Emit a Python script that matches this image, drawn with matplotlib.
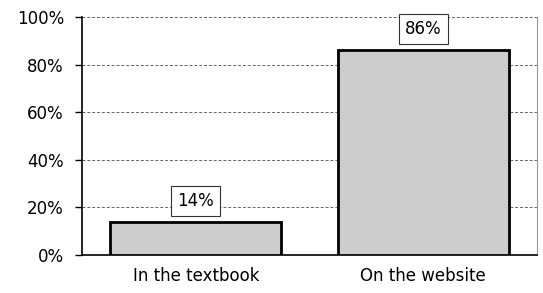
import matplotlib
matplotlib.use("Agg")
import matplotlib.pyplot as plt
from matplotlib.ticker import PercentFormatter

categories = ["In the textbook", "On the website"]
values = [14, 86]
labels = ["14%", "86%"]
yticks = [0, 20, 40, 60, 80, 100]

plt.rcParams["font.family"] = ["DejaVu Sans"]

fig = plt.figure(figsize=(5.43, 2.93), dpi=100)
ax = fig.add_axes([0.151, 0.130, 0.838, 0.812])

x = range(len(categories))
ax.bar(x, values, width=0.75, color="#cccccc", edgecolor="black", linewidth=2, zorder=3)

for xi, v, lab in zip(x, values, labels):
    ax.annotate(lab, (xi, v), xytext=(0, 15), textcoords="offset points",
                ha="center", va="center", fontsize=12, zorder=4, annotation_clip=False,
                bbox=dict(boxstyle="square,pad=0.36", fc="white", ec="#333333", lw=0.8))

ax.set_xlim(-0.5, 1.5)
ax.set_ylim(0, 100)
ax.set_yticks(yticks)
ax.yaxis.set_major_formatter(PercentFormatter(decimals=0))
ax.set_xticks(list(x))
ax.set_xticklabels(categories)
ax.tick_params(axis="x", length=0, pad=9, labelsize=12)
ax.tick_params(axis="y", length=5, width=1, direction="out", labelsize=12, pad=8)

ax.yaxis.grid(True, ls=(0, (3, 2)), color="#666666", lw=0.7, zorder=0)

ax.spines["left"].set_linewidth(1.2)
ax.spines["bottom"].set_linewidth(1.2)
ax.spines["top"].set_visible(False)
ax.spines["right"].set_color("#999999")
ax.spines["right"].set_linewidth(0.8)

fig.savefig("out.png", dpi=100)
